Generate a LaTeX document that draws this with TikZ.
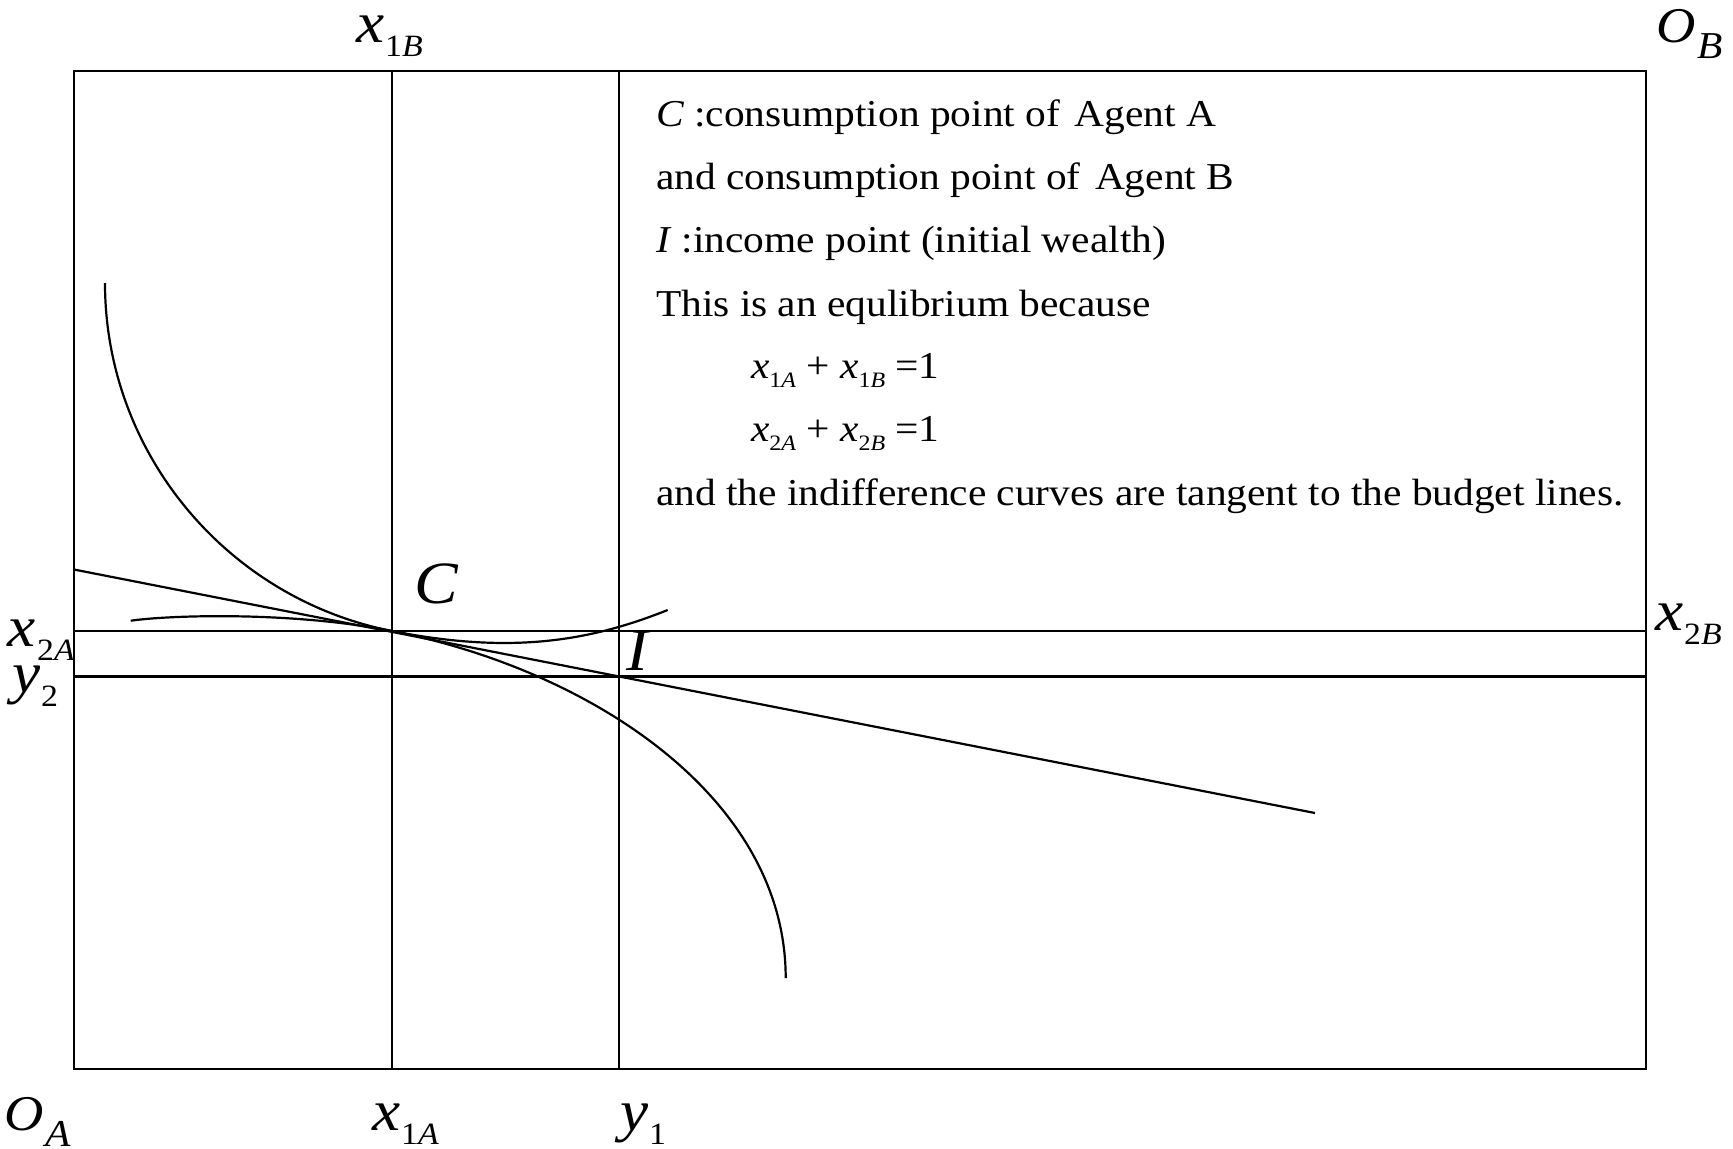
\documentclass[tikz,border=0pt]{standalone}
\usepackage{fontspec}
\setmainfont{Liberation Serif}
\newcommand\hs[1]{\scalebox{1.09}[1]{#1}}
\newcommand\biglab[3]{{\fontsize{29}{29}\selectfont\itshape #1}\kern0.5pt\raisebox{-7pt}{\fontsize{15.5}{15.5}\selectfont #2\textit{#3}}}
\newcommand\olab[1]{{\fontsize{25}{25}\selectfont\itshape O}\kern1pt\raisebox{-8pt}{\fontsize{19}{19}\selectfont\itshape #1}}
\newcommand\fx[2]{\textit{x}\raisebox{-4.5pt}{\fontsize{11}{11}\selectfont #1\textit{#2}}}
\begin{document}
\begin{tikzpicture}[x=0.5pt,y=-0.5pt,
  ln/.style={line width=1.1pt,black},
  lab/.style={anchor=base west,inner sep=0pt,outer sep=0pt},
  txt/.style={anchor=base west,inner sep=0pt,outer sep=0pt,font=\fontsize{19}{19}\selectfont}]
\useasboundingbox (0,0) rectangle (1733,1148);
% key points
\coordinate (TL) at (74,71);
\coordinate (BR) at (1646,1069);
\coordinate (C) at (392,631);
\coordinate (I) at (619,676.5);
\coordinate (x1At) at (392,71);  \coordinate (x1Ab) at (392,1069);
\coordinate (y1t) at (619,71);   \coordinate (y1b) at (619,1069);
\coordinate (x2Al) at (74,631);  \coordinate (x2Ar) at (1646,631);
\coordinate (y2l) at (74,676.5); \coordinate (y2r) at (1646,676.5);
\coordinate (bl) at (74,569.5);  \coordinate (br) at (1315,813);
% box and guide lines
\draw[ln] (TL) rectangle (BR);
\draw[ln] (x1At) -- (x1Ab);
\draw[ln] (y1t) -- (y1b);
\draw[ln] (x2Al) -- (x2Ar);
\draw[ln] (y2l) -- (y2r);
% budget line
\draw[ln] (bl) -- (br);
% indifference curves
\draw[ln] (105,283) .. controls (105,453) and (227,598.5) .. (C)
          .. controls (592,670.4) and (785.7,798) .. (785.7,978);
\draw[ln] (130.7,620.7) .. controls (170,615) and (292,611.3) .. (C)
          .. controls (512,654.6) and (590,641) .. (667.7,610);
% axis labels
\node[lab] (lx1B) at (356,42) {\hs{\biglab{x}{1}{B}}};
\node[lab] (lOB) at (1656,42.7) {\hs{\olab{B}}};
\node[lab] (lx2B) at (1655,630) {\hs{\biglab{x}{2}{B}}};
\node[lab] (lx2A) at (8,646) {\hs{\biglab{x}{2}{A}}};
\node[lab] (ly2) at (12,692) {\hs{\biglab{y}{2}{}}};
\node[lab] (lOA) at (4,1130.7) {\hs{\olab{A}}};
\node[lab] (lx1A) at (372,1130) {\hs{\biglab{x}{1}{A}}};
\node[lab] (ly1) at (620,1130) {\hs{\biglab{y}{1}{}}};
\node[lab] (lC) at (414,603.3) {\hs{\fontsize{30}{30}\selectfont\itshape C}};
\node[lab] (lI) at (626,670.7) {\hs{\fontsize{30}{30}\selectfont\itshape I}};
% text block
\node[txt] (t1) at (656,126) {\hs{\textit{C} :consumption point of\hspace{0.35em}Agent A}};
\node[txt] (t2) at (656,189) {\hs{and consumption point of\hspace{0.35em}Agent B}};
\node[txt] (t3) at (656,252) {\hs{\textit{I} :income point (initial wealth)}};
\node[txt] (t4) at (656,316) {\hs{This is an equlibrium because}};
\node[txt] (t5) at (751,378) {\hs{\fx{1}{A} + \fx{1}{B} =1}};
\node[txt] (t6) at (751,441) {\hs{\fx{2}{A} + \fx{2}{B} =1}};
\node[txt] (t7) at (656,505) {\hs{and the indifference curves are tangent to the budget lines.}};
\end{tikzpicture}
\end{document}
